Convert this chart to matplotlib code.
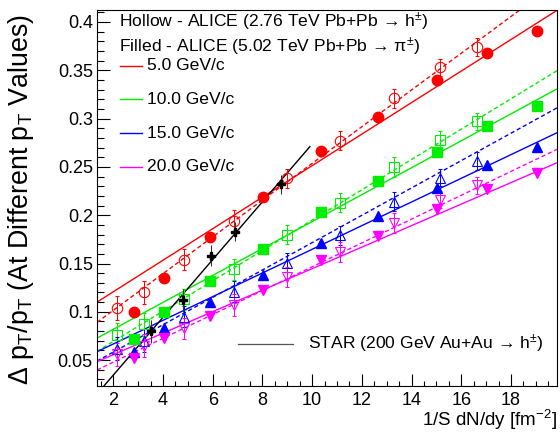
import matplotlib
matplotlib.use('Agg')
from matplotlib import pyplot as plt
from matplotlib.lines import Line2D
from matplotlib.ticker import MultipleLocator, FuncFormatter
import numpy as np

# 字体: Helvetica 风格
plt.rcParams['font.family'] = ['Liberation Sans', 'DejaVu Sans']
plt.rcParams['mathtext.fontset'] = 'custom'
plt.rcParams['mathtext.rm'] = 'Liberation Sans'
plt.rcParams['mathtext.it'] = 'Liberation Sans:italic'
plt.rcParams['mathtext.bf'] = 'Liberation Sans:bold'

# x: 1/S dN/dy
x_502 = [2.83, 4.04, 5.89, 8.01, 10.34, 12.66, 15.03, 17.02, 19.04]
x_276 = [2.16, 3.23, 4.86, 6.84, 9.00, 11.11, 13.29, 15.15, 16.62]

# ALICE 5.02 TeV (filled)
y502_pt5 = [0.100, 0.135, 0.177, 0.219, 0.266, 0.302, 0.340, 0.368, 0.391]
y502_pt10 = [0.072, 0.100, 0.132, 0.165, 0.203, 0.235, 0.265, 0.292, 0.313]
y502_pt15 = [0.058, 0.083, 0.110, 0.138, 0.171, 0.199, 0.228, 0.252, 0.271]
y502_pt20 = [0.052, 0.073, 0.096, 0.123, 0.154, 0.178, 0.206, 0.227, 0.244]

# ALICE 2.76 TeV (hollow)
y276_pt5 = [0.104, 0.120, 0.154, 0.194, 0.238, 0.277, 0.321, 0.353, 0.374]
y276_pt10 = [0.076, 0.087, 0.113, 0.144, 0.180, 0.213, 0.250, 0.278, 0.297]
y276_pt15 = [0.062, 0.070, 0.095, 0.121, 0.151, 0.179, 0.214, 0.239, 0.256]
y276_pt20 = [0.056, 0.065, 0.083, 0.107, 0.136, 0.162, 0.192, 0.216, 0.231]
err276 = [0.012, 0.012, 0.011, 0.011, 0.010, 0.010, 0.010, 0.009, 0.009]

# STAR 200 GeV
x_star = [3.50, 4.79, 5.94, 6.89, 8.73]
y_star = [0.080, 0.112, 0.158, 0.183, 0.232]
yerr_star = [0.012, 0.012, 0.011, 0.010, 0.010]
xerr_star = [0.15, 0.15, 0.15, 0.15, 0.15]

# 拟合直线 (slope, intercept)
fit502_pt5 = (0.01632, 0.0881)
fit502_pt10 = (0.01394, 0.0540)
fit502_pt15 = (0.01225, 0.0422)
fit502_pt20 = (0.01113, 0.0334)
fit276_pt5 = (0.01901, 0.0635)
fit276_pt10 = (0.01570, 0.0379)
fit276_pt15 = (0.01416, 0.0300)
fit276_pt20 = (0.01234, 0.0232)
fit_star = (0.0299, -0.0253)
star_range = (1.3, 9.91)

pt_labels = ['5.0 GeV/c', '10.0 GeV/c', '15.0 GeV/c', '20.0 GeV/c']
colors = ['#ff0000', '#00ee00', '#0000ff', '#ff00ff']
markers = ['o', 's', '^', 'v']
msizes = [7.5, 7, 7.5, 7.5]

fig = plt.figure(figsize=(5.6, 4.37), dpi=100)
ax = fig.add_axes([97 / 560, 51 / 437, 460 / 560, 376 / 437])

xlim = (1.344, 19.85)
ax.set_xlim(*xlim)
ax.set_ylim(0.0232, 0.4124)

xl = np.array(xlim)
y502 = [y502_pt5, y502_pt10, y502_pt15, y502_pt20]
y276 = [y276_pt5, y276_pt10, y276_pt15, y276_pt20]
f502 = [fit502_pt5, fit502_pt10, fit502_pt15, fit502_pt20]
f276 = [fit276_pt5, fit276_pt10, fit276_pt15, fit276_pt20]

for i in range(4):
    c = colors[i]
    ax.plot(xl, f502[i][0] * xl + f502[i][1], '-', color=c, lw=1.0, zorder=2)
    ax.plot(xl, f276[i][0] * xl + f276[i][1], '--', color=c, lw=1.0,
            dashes=(3, 2), zorder=2)
    ax.errorbar(x_276, y276[i], yerr=err276, fmt=markers[i], ms=msizes[i],
                mfc='none', mec=c, mew=0.8, ecolor=c, elinewidth=0.7,
                capsize=1.5, capthick=0.7, zorder=3)
    ax.plot(x_502, y502[i], markers[i], ms=msizes[i], color=c, mec=c, zorder=4)

xs = np.array(star_range)
ax.plot(xs, fit_star[0] * xs + fit_star[1], '-', color='black', lw=1.0, zorder=2)
ax.errorbar(x_star, y_star, yerr=yerr_star, xerr=xerr_star, fmt='P', ms=6,
            color='black', ecolor='#333333', elinewidth=0.8, capsize=0, zorder=5)

# 刻度
ax.xaxis.set_major_locator(MultipleLocator(2))
ax.xaxis.set_minor_locator(MultipleLocator(0.5))
ax.yaxis.set_major_locator(MultipleLocator(0.05))
ax.yaxis.set_minor_locator(MultipleLocator(0.01))
ax.yaxis.set_major_formatter(FuncFormatter(lambda v, p: '%g' % round(v, 3)))
ax.tick_params(which='both', direction='in', top=False, right=False,
               labelsize=13, width=0.8)
ax.tick_params(axis='y', which='major', length=9.4, pad=3)
ax.tick_params(axis='y', which='minor', length=5)
ax.tick_params(axis='x', which='major', length=9, pad=4)
ax.tick_params(axis='x', which='minor', length=3.6)
for s in ax.spines.values():
    s.set_linewidth(0.8)

# 轴标签
fig.text(21 / 560, 1 - 14 / 437, r'Δ p$_\mathregular{T}$/p$_\mathregular{T}$ (At Different p$_\mathregular{T}$ Values)',
         rotation=90, ha='center', va='top', fontsize=19.3)
fig.text(557 / 560, 1 - 420 / 437, r'1/S dN/dy [fm$^{-2}$]',
         ha='right', va='center', fontsize=13.5)

# 图例
fig.text(119 / 560, 1 - 22 / 437, r'Hollow - ALICE (2.76 TeV Pb+Pb → h$^{\pm}$)',
         ha='left', va='center', fontsize=12.6)
fig.text(119 / 560, 1 - 47 / 437, r'Filled - ALICE (5.02 TeV Pb+Pb → π$^{\pm}$)',
         ha='left', va='center', fontsize=12.6)
leg_y = [66, 99, 133.3, 166.7]
for i in range(4):
    yy = 1 - leg_y[i] / 437
    fig.add_artist(Line2D([120 / 560, 142 / 560], [yy, yy], color=colors[i], lw=1.0))
    fig.text(147 / 560, yy, pt_labels[i], ha='left', va='center', fontsize=12.6)

yy = 1 - 344 / 437
fig.add_artist(Line2D([238 / 560, 293 / 560], [yy, yy], color='#555555', lw=0.9))
fig.text(308 / 560, yy, r'STAR (200 GeV Au+Au → h$^{\pm}$)', ha='left', va='center',
         fontsize=12.6)

fig.savefig('out.png', dpi=100)
